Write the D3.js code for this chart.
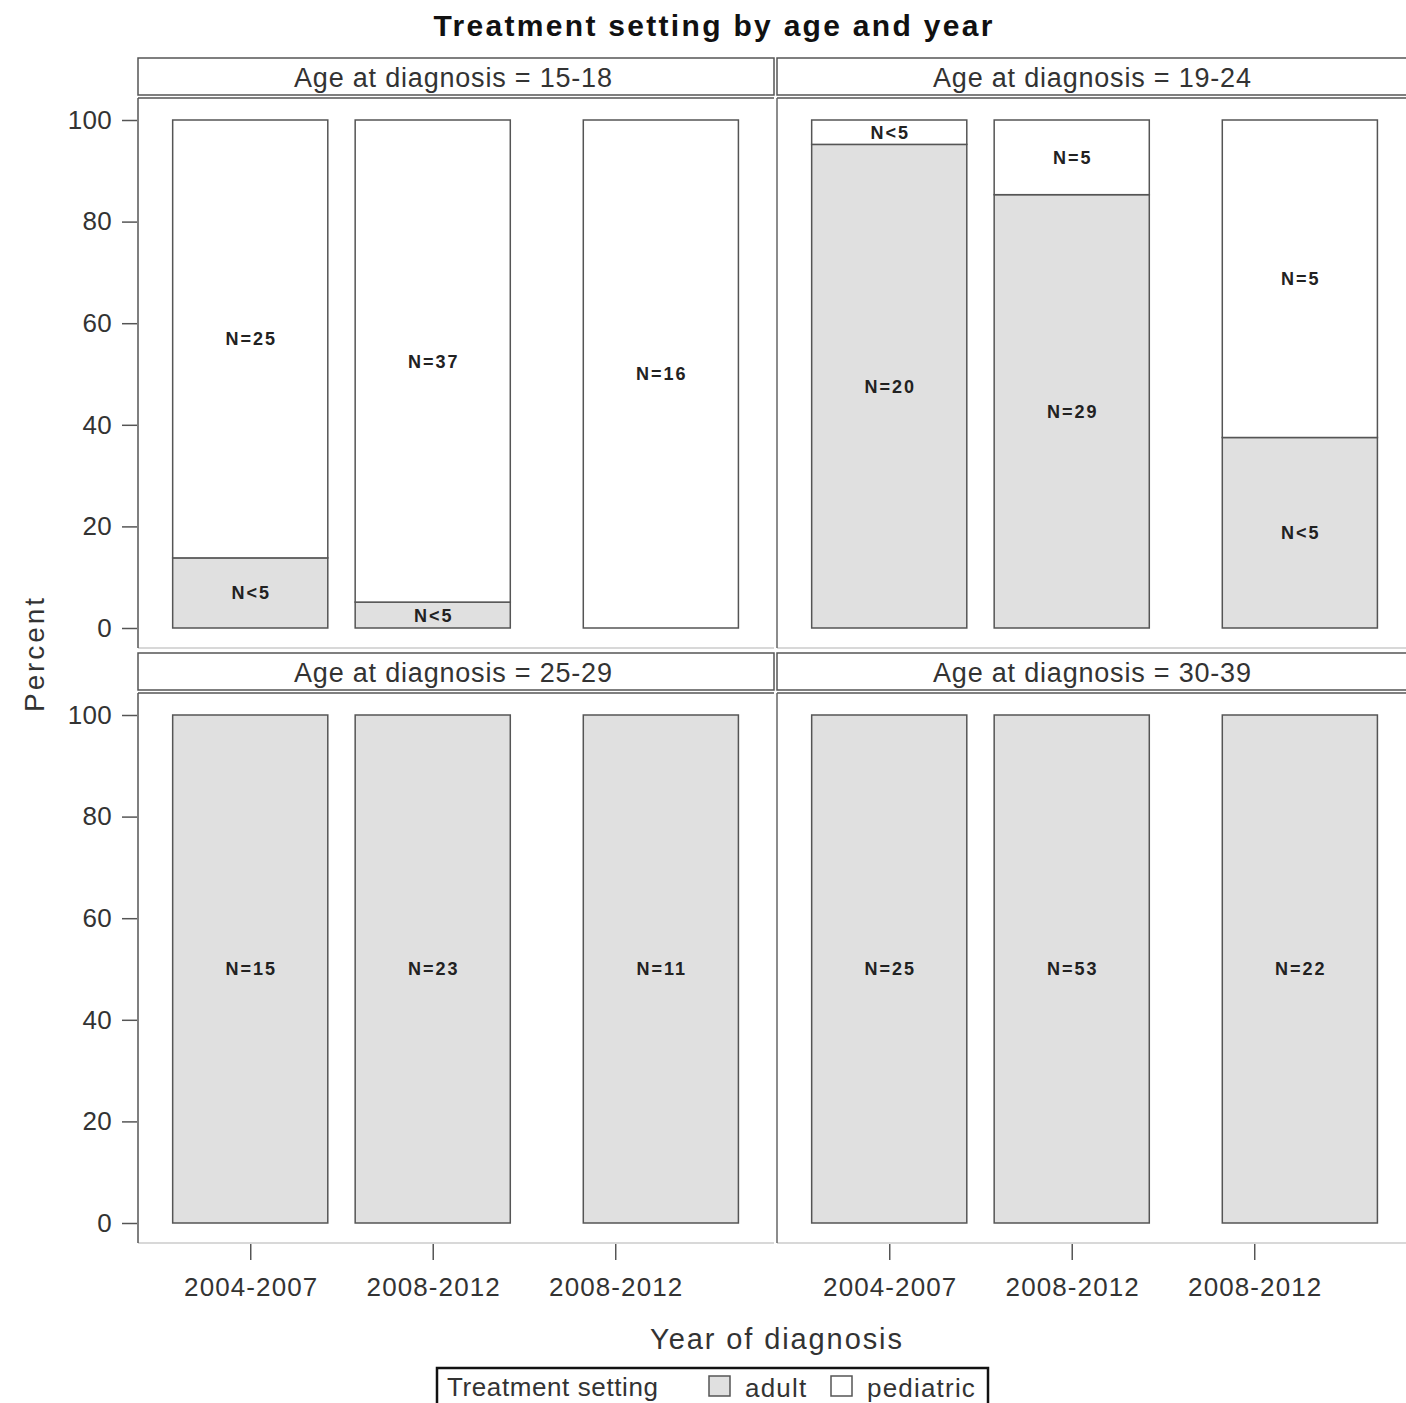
<!DOCTYPE html>
<html>
<head>
<meta charset="utf-8">
<script src="https://cdn.jsdelivr.net/npm/d3@7"></script>
<style>
  html, body { margin: 0; padding: 0; background: #fff; overflow: hidden; }
  svg { display: block; }
  text { font-family: "Liberation Sans", Arial, sans-serif; }
</style>
</head>
<body>
<svg id="chart" width="1406" height="1403"></svg>
<script>
// Age groups shown as panels (row-major: top-left, top-right, bottom-left, bottom-right)
const ageGroups = ["15-18", "19-24", "25-29", "30-39"];

// Year-of-diagnosis tick labels and their slots on the panel axis
const yearLabels = ["2004-2007", "2008-2012", "2008-2012"];
const tickSlots = [0, 1, 2];
// Bar centre slots (the last bar sits right of its tick)
const barSlots = [0, 1, 2.25];

// Percent of patients treated in an adult setting, per age group and period
const adultPct = [
  [13.8, 5.1, 0],
  [95.2, 85.3, 37.5],
  [100, 100, 100],
  [100, 100, 100]
];

// Count labels for each segment
const adultLabels = [
  ["N<5", "N<5", ""],
  ["N=20", "N=29", "N<5"],
  ["N=15", "N=23", "N=11"],
  ["N=25", "N=53", "N=22"]
];
const pediatricLabels = [
  ["N=25", "N=37", "N=16"],
  ["N<5", "N=5", "N=5"],
  ["", "", ""],
  ["", "", ""]
];

const yTicks = [0, 20, 40, 60, 80, 100];

const settings = ["adult", "pediatric"];
const fillColor = d3.scaleOrdinal().domain(settings).range(["#e0e0e0", "#ffffff"]);

// ---- layout ----
const svg = d3.select("#chart");
const colLeft = [138, 777];
const panelW = 636;
const rowTop = [58, 653];
const headerH = 37;
const plotTopOffset = 40;
const plotH = 550;
const barW = 0.85; // in slot units
const frameColor = "#555";
const textColor = "#333";

// centred text with letter spacing: shift by half the trailing gap
function spaced(sel, ls) {
  return sel.attr("letter-spacing", ls).attr("dx", ls / 2);
}

// Title
spaced(svg.append("text")
  .attr("x", 713).attr("y", 36)
  .attr("text-anchor", "middle")
  .attr("font-size", 30).attr("font-weight", "bold")
  .attr("fill", "#111"), 2.3)
  .text("Treatment setting by age and year");

ageGroups.forEach((age, i) => {
  const r = Math.floor(i / 2), c = i % 2;
  const left = colLeft[c];
  const top = rowTop[r];
  const plotTop = top + plotTopOffset;
  const plotBottom = plotTop + plotH;

  const x = d3.scaleLinear().domain([-0.615, 2.87]).range([left, left + panelW]);
  const y = d3.scaleLinear().domain([0, 100]).range([plotTop + 530, plotTop + 22]);

  const g = svg.append("g");

  // Panel header
  g.append("rect")
    .attr("x", left).attr("y", top)
    .attr("width", panelW).attr("height", headerH)
    .attr("fill", "#fff").attr("stroke", frameColor).attr("stroke-width", 1.5);
  spaced(g.append("text")
    .attr("x", left + panelW / 2 - 3).attr("y", top + 29)
    .attr("text-anchor", "middle")
    .attr("font-size", 27).attr("fill", textColor), 0.8)
    .text("Age at diagnosis = " + age);

  // Plot frame: dark top and left edges, light bottom
  g.append("line")
    .attr("x1", left).attr("x2", left + panelW)
    .attr("y1", plotTop).attr("y2", plotTop)
    .attr("stroke", frameColor).attr("stroke-width", 1.5);
  g.append("line")
    .attr("x1", left).attr("x2", left + panelW)
    .attr("y1", plotBottom).attr("y2", plotBottom)
    .attr("stroke", "#d8d8d8").attr("stroke-width", 2);
  g.append("line")
    .attr("x1", left).attr("x2", left)
    .attr("y1", plotTop).attr("y2", plotBottom)
    .attr("stroke", c === 0 ? frameColor : "#666").attr("stroke-width", 1.5);

  // Stacked bars
  const rows = barSlots.map((s, j) => ({
    slot: s,
    segs: [
      { key: "adult", y0: 0, y1: adultPct[i][j], label: adultLabels[i][j] },
      { key: "pediatric", y0: adultPct[i][j], y1: 100, label: pediatricLabels[i][j] }
    ]
  }));

  rows.forEach(row => {
    const segs = row.segs.filter(s => s.y1 - s.y0 > 0);
    g.selectAll(null).data(segs).enter().append("rect")
      .attr("x", x(row.slot - barW / 2))
      .attr("width", x(row.slot + barW / 2) - x(row.slot - barW / 2))
      .attr("y", d => y(d.y1))
      .attr("height", d => y(d.y0) - y(d.y1))
      .attr("fill", d => fillColor(d.key))
      .attr("stroke", frameColor).attr("stroke-width", 1.5);
    g.selectAll(null).data(segs.filter(s => s.label)).enter().append("text")
      .attr("x", x(row.slot))
      .attr("y", d => (y(d.y0) + y(d.y1)) / 2)
      .attr("dy", "0.36em")
      .attr("text-anchor", "middle")
      .attr("font-size", 18).attr("font-weight", "bold")
      .attr("letter-spacing", 2).attr("dx", 1)
      .attr("fill", "#222")
      .text(d => d.label);
  });

  // Y axis on left column
  if (c === 0) {
    const ya = d3.axisLeft(y).tickValues(yTicks).tickSize(15).tickPadding(10);
    const ag = g.append("g").attr("transform", `translate(${left - 1},0)`).call(ya);
    ag.select(".domain").remove();
    ag.selectAll(".tick line").attr("stroke", frameColor).attr("stroke-width", 1.5);
    ag.selectAll(".tick text")
      .attr("font-size", 26).attr("fill", textColor)
      .attr("letter-spacing", 0.3)
      .attr("font-family", "Liberation Sans, Arial, sans-serif");
  }

  // X axis on bottom row
  if (r === 1) {
    const xa = d3.axisBottom(x).tickValues(tickSlots)
      .tickFormat((d, k) => yearLabels[k]).tickSize(16).tickPadding(18);
    const ag = g.append("g").attr("transform", `translate(0,${plotBottom + 1})`).call(xa);
    ag.select(".domain").remove();
    ag.selectAll(".tick line").attr("stroke", frameColor).attr("stroke-width", 1.5);
    ag.selectAll(".tick text")
      .attr("font-size", 26).attr("fill", textColor)
      .attr("letter-spacing", 1.1).attr("dx", 0.5)
      .attr("font-family", "Liberation Sans, Arial, sans-serif");
  }
});

// Axis titles
spaced(svg.append("text")
  .attr("transform", "translate(44,655) rotate(-90)")
  .attr("text-anchor", "middle")
  .attr("font-size", 28).attr("fill", textColor), 2.9)
  .text("Percent");
spaced(svg.append("text")
  .attr("x", 776).attr("y", 1349)
  .attr("text-anchor", "middle")
  .attr("font-size", 29).attr("fill", textColor), 1.9)
  .text("Year of diagnosis");

// Legend
const lg = svg.append("g");
lg.append("rect")
  .attr("x", 437).attr("y", 1368).attr("width", 551).attr("height", 48)
  .attr("fill", "#fff").attr("stroke", "#111").attr("stroke-width", 2.5);
lg.append("text")
  .attr("x", 447).attr("y", 1396)
  .attr("font-size", 26).attr("fill", textColor)
  .attr("letter-spacing", 0.6)
  .text("Treatment setting");
const legendItems = [
  { key: "adult", sx: 709, tx: 745 },
  { key: "pediatric", sx: 831, tx: 867 }
];
legendItems.forEach(it => {
  lg.append("rect")
    .attr("x", it.sx).attr("y", 1376).attr("width", 21).attr("height", 20)
    .attr("fill", fillColor(it.key)).attr("stroke", frameColor).attr("stroke-width", 1.5);
  lg.append("text")
    .attr("x", it.tx).attr("y", 1397)
    .attr("font-size", 26).attr("fill", textColor)
    .attr("letter-spacing", 1.2)
    .text(it.key);
});
</script>
</body>
</html>
